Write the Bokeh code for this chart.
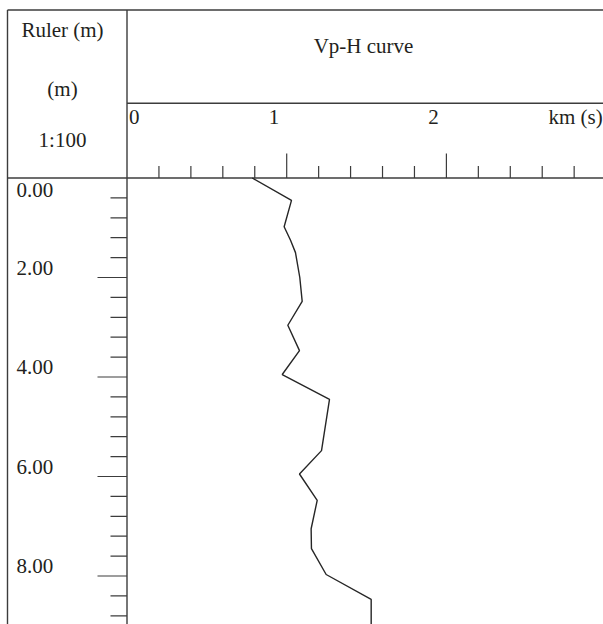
from bokeh.plotting import figure
from bokeh.models import Range1d, ColumnDataSource
from bokeh.core.properties import value
from bokeh.embed import file_html
from bokeh.resources import INLINE

# ---------------- data ----------------
depth_m = [0.0, 0.45, 0.98, 1.25, 1.5, 2.0, 2.48, 2.96, 3.47, 3.95, 4.45, 5.48, 5.95, 6.48, 7.05, 7.45, 7.97, 8.47, 9.2]
vp_kms = [0.784, 1.030, 0.984, 1.024, 1.055, 1.082, 1.097, 1.007, 1.080, 0.972, 1.268, 1.218, 1.080, 1.191, 1.153, 1.155, 1.247, 1.529, 1.529]

vel_minor_ticks = [0.2, 0.4, 0.6, 0.8, 1.2, 1.4, 1.6, 1.8, 2.2, 2.4, 2.6, 2.8]
vel_major_ticks = [1.0, 2.0, 3.0]
vel_labels = ["0", "1", "2"]
vel_label_values = [0.0, 1.0, 2.0]
vel_unit = "km (s)"

depth_minor_ticks = [0.4, 0.8, 1.2, 1.6, 2.4, 2.8, 3.2, 3.6, 4.4, 4.8, 5.2, 5.6,
                     6.4, 6.8, 7.2, 7.6, 8.4, 8.8]
depth_major_ticks = [2.0, 4.0, 6.0, 8.0]
depth_labels = ["0.00", "2.00", "4.00", "6.00", "8.00"]
depth_label_values = [0.0, 2.0, 4.0, 6.0, 8.0]

header_ruler = ["Ruler (m)", "(m)", "1:100"]
title = "Vp-H curve"

# ---------------- layout helpers (pixel -> data) ----------------
W, H = 603, 624
X0PX, XSCALE = 126.5, 159.7   # px of vp=0, px per km/s
Y0PX, YSCALE = 177.5, 49.75   # px of depth=0, px per m

def vx(px):
    return (px - X0PX) / XSCALE

def dy(py):
    return (py - Y0PX) / YSCALE

p = figure(width=W, height=H, output_backend="svg", toolbar_location=None,
           x_range=Range1d(vx(0), vx(W)), y_range=Range1d(dy(H), dy(0)),
           min_border=0, min_border_left=0, min_border_right=0,
           min_border_top=0, min_border_bottom=0)
p.axis.visible = False
p.grid.visible = False
p.outline_line_color = None
p.background_fill_color = "white"
p.border_fill_color = "white"

LC = "#3c3c3c"
TC = "#231f20"
FONT = value("Liberation Serif")
FS = "21px"

XL, XR = vx(7), vx(W + 10)
YT, YM, YB = dy(9.5), dy(102.7), dy(H + 10)

# frame
p.segment(x0=[XL, XL, 0, 0, XL], y0=[YT, YT, YT, YM, 0],
          x1=[XL, XR, 0, XR, XR], y1=[YB, YT, YB, YM, 0],
          line_color=LC, line_width=1.4)

# velocity ticks
p.segment(x0=vel_minor_ticks, x1=vel_minor_ticks,
          y0=[dy(165.5)] * len(vel_minor_ticks), y1=[0] * len(vel_minor_ticks),
          line_color=LC, line_width=1.2)
p.segment(x0=vel_major_ticks, x1=vel_major_ticks,
          y0=[dy(153)] * len(vel_major_ticks), y1=[0] * len(vel_major_ticks),
          line_color=LC, line_width=1.2)

# velocity labels (drawn just left of their tick, "0" right of divider)
lab_x = [v - 0.08 if v > 0 else v + 0.045 for v in vel_label_values]
p.text(x=lab_x, y=[dy(116)] * len(lab_x), text=vel_labels,
       text_font=FONT, text_font_size=FS, text_color=TC,
       text_align="center", text_baseline="middle")
p.text(x=[vx(548)], y=[dy(116)], text=[vel_unit],
       text_font=FONT, text_font_size=FS, text_color=TC,
       text_align="left", text_baseline="middle")

# depth ruler ticks
p.segment(x0=[vx(110)] * len(depth_minor_ticks), x1=[0] * len(depth_minor_ticks),
          y0=depth_minor_ticks, y1=depth_minor_ticks, line_color=LC, line_width=1.2)
p.segment(x0=[vx(97)] * len(depth_major_ticks), x1=[0] * len(depth_major_ticks),
          y0=depth_major_ticks, y1=depth_major_ticks, line_color=LC, line_width=1.2)

lab_y = [d + 0.25 if d == 0 else d - 0.2 for d in depth_label_values]
p.text(x=[vx(16)] * len(lab_y), y=lab_y, text=depth_labels,
       text_font=FONT, text_font_size=FS, text_color=TC,
       text_align="left", text_baseline="middle")

# header texts
p.text(x=[vx(62)] * 3, y=[dy(29), dy(88), dy(139)], text=header_ruler,
       text_font=FONT, text_font_size=FS, text_color=TC,
       text_align="center", text_baseline="middle")
p.text(x=[vx(363)], y=[dy(45)], text=[title],
       text_font=FONT, text_font_size=FS, text_color=TC,
       text_align="center", text_baseline="middle")

# Vp-H curve
src = ColumnDataSource(dict(vp=vp_kms, depth=depth_m))
p.line(x="vp", y="depth", source=src, line_color="#262626", line_width=1.4)

open("out.html", "w").write(file_html(p, INLINE))
